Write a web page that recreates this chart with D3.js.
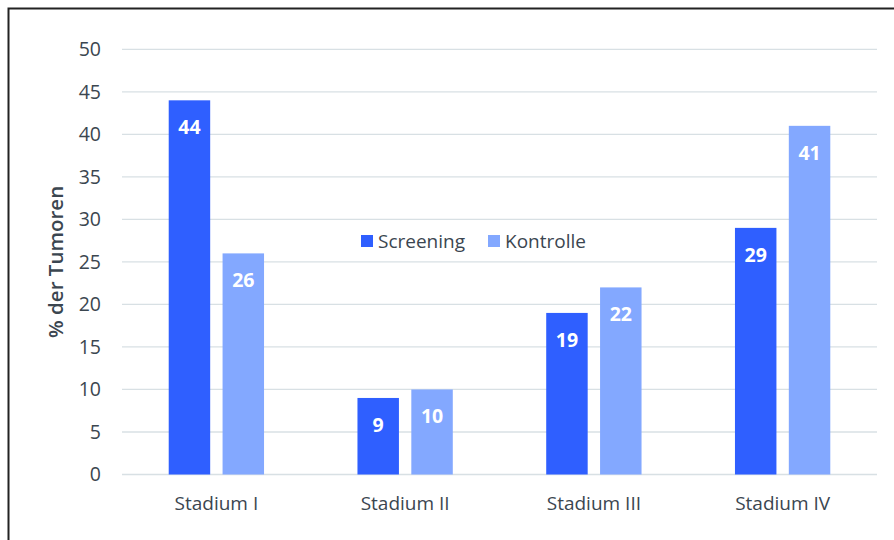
<!DOCTYPE html>
<html>
<head>
<meta charset="utf-8">
<script src="https://cdn.jsdelivr.net/npm/d3@7"></script>
<style>
  html, body { margin: 0; padding: 0; background: #fff; }
  svg { display: block; }
  text { font-family: "Open Sans", "Noto Sans", sans-serif; }
</style>
</head>
<body>
<svg id="chart" width="894" height="540"></svg>
<script>
// Tumour stage distribution: screening vs. control group
const categories = ["Stadium I", "Stadium II", "Stadium III", "Stadium IV"];
const seriesNames = ["Screening", "Kontrolle"];
const screening = [44, 9, 19, 29];
const kontrolle = [26, 10, 22, 41];
const yTicks = [0, 5, 10, 15, 20, 25, 30, 35, 40, 45, 50];

const colors = { Screening: "#2f5fff", Kontrolle: "#83a8ff" };
const textColor = "#3b4650";

const svg = d3.select("#chart");
const W = 894, H = 540;
const m = { left: 122, right: 17, top: 49.3, bottom: 65.5 };

// Outer frame
svg.append("rect")
  .attr("x", 8.5).attr("y", 8.5)
  .attr("width", W + 10).attr("height", H + 10)
  .attr("fill", "none").attr("stroke", "#222").attr("stroke-width", 2);

const x0 = d3.scaleBand().domain(categories)
  .range([m.left, W - m.right]).paddingInner(0).paddingOuter(0);
const groupW = x0.bandwidth() * 0.505;
const x1 = d3.scaleBand().domain(seriesNames)
  .range([0, groupW]).paddingInner(0.23);
const y = d3.scaleLinear().domain([0, 50]).range([H - m.bottom, m.top]);

// Grid lines
svg.append("g").selectAll("line").data(yTicks).join("line")
  .attr("x1", m.left).attr("x2", W - m.right)
  .attr("y1", d => y(d)).attr("y2", d => y(d))
  .attr("stroke", "#d8e0e4").attr("stroke-width", 1.3);

// Y axis
const yAxis = svg.append("g")
  .attr("transform", `translate(${m.left},0)`)
  .call(d3.axisLeft(y).tickValues(yTicks).tickSize(0).tickPadding(21));
yAxis.select(".domain").remove();
yAxis.selectAll("text")
  .attr("fill", textColor).attr("font-size", 19.5)
  .style("font-family", '"Open Sans", sans-serif');

// X axis labels
const xAxis = svg.append("g")
  .attr("transform", `translate(0,${y(0)})`)
  .call(d3.axisBottom(x0).tickSize(0).tickPadding(22));
xAxis.select(".domain").remove();
xAxis.selectAll("text")
  .attr("fill", textColor).attr("font-size", 19)
  .style("font-family", '"Open Sans", sans-serif');

// Axis title
svg.append("text")
  .attr("transform", `translate(63,${(y(0) + y(50)) / 2}) rotate(-90)`)
  .attr("text-anchor", "middle")
  .attr("fill", textColor).attr("font-size", 20.5).attr("font-weight", 600)
  .text("% der Tumoren");

// Bars
const rows = categories.map((c, i) => ({
  cat: c,
  vals: [{ s: "Screening", v: screening[i] }, { s: "Kontrolle", v: kontrolle[i] }]
}));

const groups = svg.append("g").selectAll("g").data(rows).join("g")
  .attr("transform", d => `translate(${x0(d.cat) + (x0.bandwidth() - groupW) / 2},0)`);

groups.selectAll("rect").data(d => d.vals).join("rect")
  .attr("x", d => x1(d.s))
  .attr("width", x1.bandwidth())
  .attr("y", d => y(d.v))
  .attr("height", d => y(0) - y(d.v))
  .attr("fill", d => colors[d.s]);

groups.selectAll("text.val").data(d => d.vals).join("text")
  .attr("class", "val")
  .attr("x", d => x1(d.s) + x1.bandwidth() / 2)
  .attr("y", d => y(d.v) + 27)
  .attr("dy", "0.35em")
  .attr("text-anchor", "middle")
  .attr("fill", "#fff").attr("font-size", 19.5).attr("font-weight", 700)
  .text(d => d.v);

// Legend
const legend = svg.append("g").attr("transform", "translate(361,241)");
const legendX = [0, 127];
seriesNames.forEach((s, i) => {
  const g = legend.append("g").attr("transform", `translate(${legendX[i]},0)`);
  g.append("rect").attr("x", 0).attr("y", -6).attr("width", 12).attr("height", 12)
    .attr("fill", colors[s]);
  g.append("text").attr("x", 17).attr("y", 0).attr("dy", "0.35em")
    .attr("fill", textColor).attr("font-size", 19).text(s);
});
</script>
</body>
</html>
